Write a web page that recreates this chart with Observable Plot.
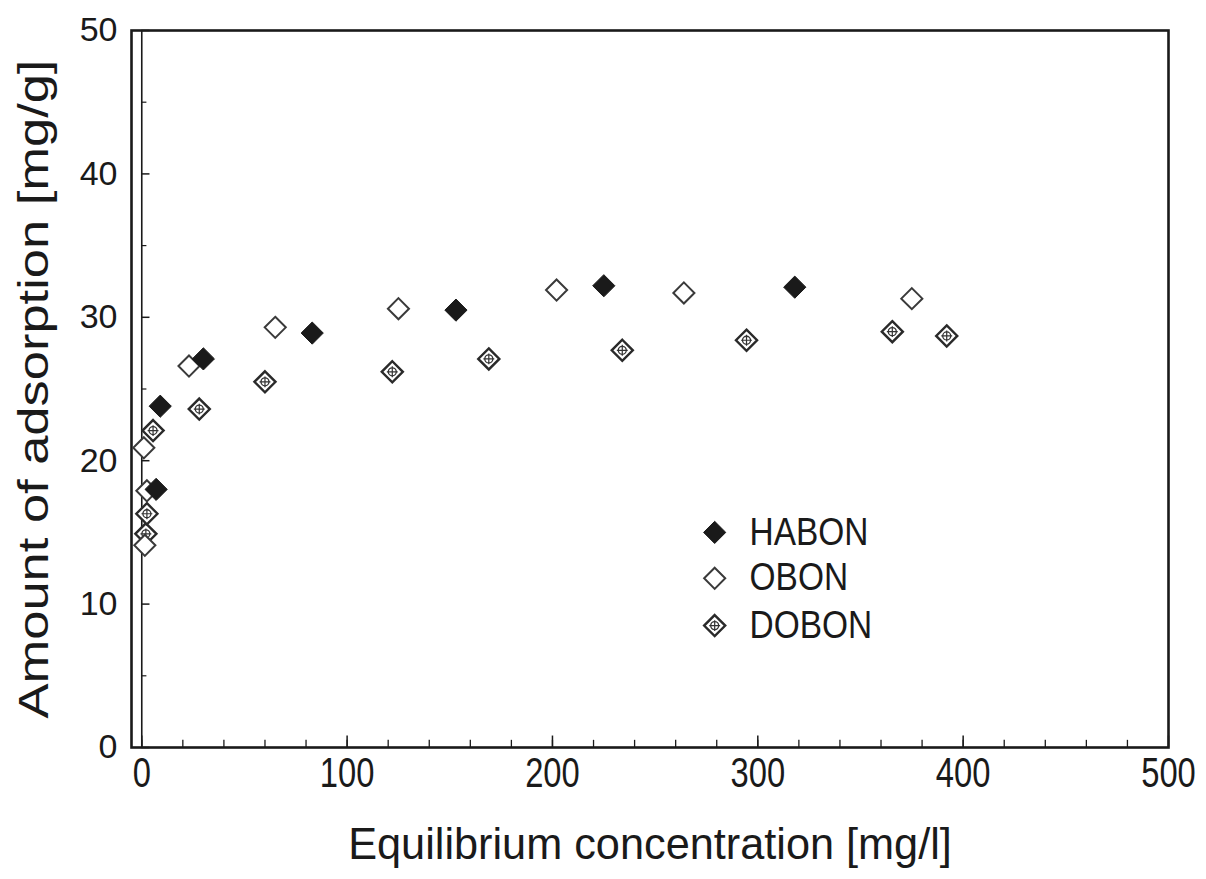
<!DOCTYPE html>
<html>
<head>
<meta charset="utf-8">
<script src="https://cdn.jsdelivr.net/npm/d3@7"></script>
<script src="https://cdn.jsdelivr.net/npm/@observablehq/plot@0.6"></script>
<style>
  html, body { margin: 0; padding: 0; background: #fff; }
  #chart svg { display: block; }
</style>
</head>
<body>
<div id="chart"></div>
<script>
// ---- data ----
const seriesNames = ["HABON", "OBON", "DOBON"];
const habonX = [7, 9, 30, 83, 153, 225, 318];
const habonY = [18.0, 23.8, 27.1, 28.9, 30.5, 32.2, 32.1];
const obonX = [1.5, 2.5, 1, 23, 65, 125, 202, 264, 375];
const obonY = [14.1, 17.9, 20.9, 26.6, 29.3, 30.6, 31.9, 31.7, 31.3];
const dobonX = [2, 2.5, 5.5, 28, 60, 122, 169, 234, 294.5, 365.5, 392];
const dobonY = [14.9, 16.3, 22.1, 23.6, 25.5, 26.2, 27.1, 27.7, 28.4, 29.0, 28.7];

const xTicks = [0, 100, 200, 300, 400, 500];
const xMinorTicks = d3.range(0, 500, 20);
const yTicks = [0, 10, 20, 30, 40, 50];
const yMinorTicks = [5, 15, 25, 35, 45];

const xTitle = "Equilibrium concentration [mg/l]";
const yTitle = "Amount of adsorption [mg/g]";

// legend placement (data units inside the frame)
const legendX = 279;
const legendTextX = 296;
const legendY = [15.0, 11.8, 8.5];

// ---- build tables ----
const zip = (xs, ys) => xs.map((x, i) => ({x, y: ys[i]}));
const habon = zip(habonX, habonY);
const obon = zip(obonX, obonY);
const dobon = zip(dobonX, dobonY);
const legend = seriesNames.map((name, i) => ({name, x: legendX, tx: legendTextX, y: legendY[i]}));

const ink = "#1a1a1a";
const R = 10;
const font = "'Liberation Sans', Arial, Helvetica, sans-serif";

function drawHabon(data) {
  return Plot.dot(data, {x: "x", y: "y", symbol: "diamond2", r: R, fill: ink, stroke: ink, strokeWidth: 1});
}
function drawObon(data) {
  return Plot.dot(data, {x: "x", y: "y", symbol: "diamond2", r: R - 0.5, fill: "white", stroke: "#3a3a3a", strokeWidth: 2});
}
function drawDobon(data) {
  return [
    Plot.dot(data, {x: "x", y: "y", symbol: "diamond2", r: R - 0.5, fill: "white", stroke: "#2a2a2a", strokeWidth: 2.4}),
    Plot.dot(data, {x: "x", y: "y", symbol: "circle", r: 4, fill: "none", stroke: "#333", strokeWidth: 1.3}),
    Plot.dot(data, {x: "x", y: "y", symbol: "plus", r: 3.6, stroke: "#333", strokeWidth: 1.2})
  ];
}

const plot = Plot.plot({
  width: 1206,
  height: 879,
  marginLeft: 131,
  marginRight: 38,
  marginTop: 30,
  marginBottom: 132,
  style: {fontFamily: font, color: ink, background: "white"},
  x: {domain: [-5, 500], label: null},
  y: {domain: [0, 50], label: null},
  marks: [
    // x = 0 inner line
    Plot.ruleX([0], {stroke: ink, strokeWidth: 1.6}),
    // ticks on the bottom (pointing up)
    Plot.ruleX(xMinorTicks, {y1: 0, y2: 0.5, stroke: ink, strokeWidth: 1.3}),
    Plot.ruleX(xTicks, {y1: 0, y2: 0.8, stroke: ink, strokeWidth: 1.5}),
    // ticks on the x=0 line (pointing right)
    Plot.ruleY(yMinorTicks, {x1: 0, x2: 2.5, stroke: ink, strokeWidth: 1.2}),
    Plot.ruleY(yTicks, {x1: 0, x2: 4, stroke: ink, strokeWidth: 1.5}),
    Plot.frame({stroke: ink, strokeWidth: 2.6}),
    Plot.axisX({ticks: xTicks, tickSize: 0, tickPadding: 10, fontSize: 42, label: null}),
    Plot.axisY({ticks: yTicks, tickSize: 0, tickPadding: 14, fontSize: 34, label: null}),
    Plot.text([xTitle], {frameAnchor: "bottom", textAnchor: "middle", dy: 111, fontSize: 44, fill: ink}),
    Plot.text([yTitle], {frameAnchor: "left", textAnchor: "middle", lineAnchor: "middle", rotate: -90, dx: -97, fontSize: 43, fill: ink}),
    // data
    ...drawDobon(dobon),
    drawObon(obon),
    drawHabon(habon),
    // legend
    drawHabon(legend.filter(d => d.name === "HABON")),
    drawObon(legend.filter(d => d.name === "OBON")),
    ...drawDobon(legend.filter(d => d.name === "DOBON")),
    Plot.text(legend, {x: "tx", y: "y", text: "name", textAnchor: "start", fontSize: 38, fill: ink})
  ]
});
document.getElementById("chart").appendChild(plot);

// stretch/condense text along its own baseline (the reference type is narrow)
function scaleText(t, sx) {
  const tr = t.getAttribute("transform") || "";
  t.setAttribute("transform", `${tr} scale(${sx},1)`);
}
plot.querySelectorAll('g[aria-label^="x-axis"] text').forEach(t => scaleText(t, 0.78));
plot.querySelectorAll("text").forEach(t => {
  const s = t.textContent;
  if (s === xTitle) scaleText(t, 0.984);
  else if (s === yTitle) scaleText(t, 1.22);
  else if (seriesNames.includes(s)) scaleText(t, 0.88);
});
</script>
</body>
</html>
